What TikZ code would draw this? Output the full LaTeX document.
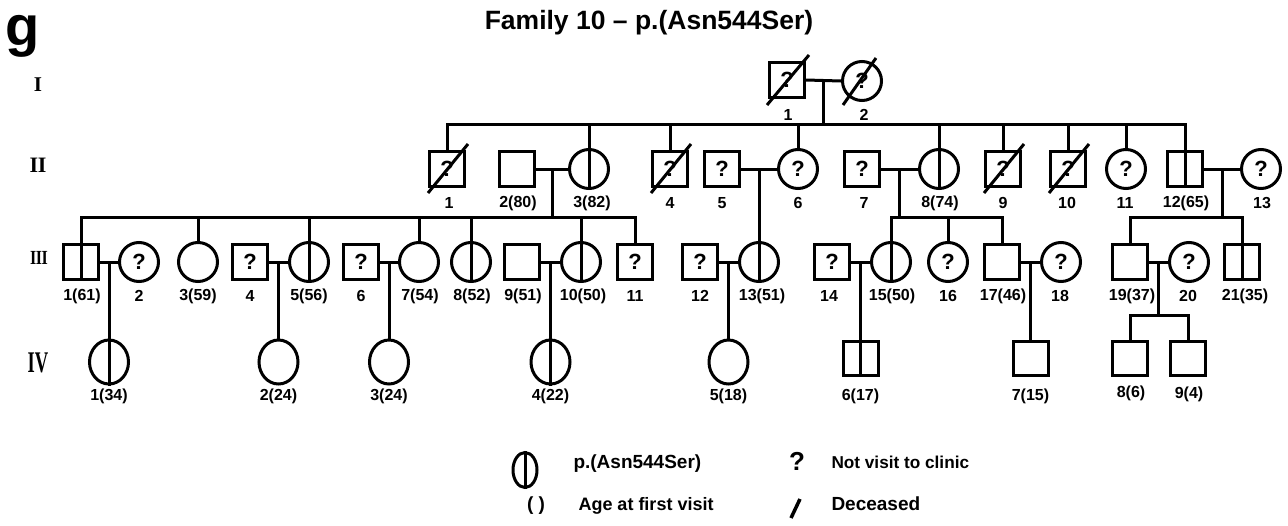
\documentclass[tikz,border=0pt]{standalone}
\usepackage{fontspec}
\setmainfont{Liberation Sans}
\newfontfamily\romfont{Liberation Serif}
\usetikzlibrary{shapes.geometric,calc}
\newcommand\pedq{\bfseries\fontsize{22}{22}\selectfont}
\newcommand\pedlab{\bfseries\fontsize{16}{16}\selectfont}
\newcommand\pedleg{\bfseries\fontsize{17.5}{17.5}\selectfont}
\begin{document}
\begin{tikzpicture}[x=1pt,y=-1pt,line width=3pt,
  male/.style={draw,rectangle,minimum width=35pt,minimum height=35pt,inner sep=0pt,font=\pedq},
  fem/.style={draw,circle,minimum size=39pt,inner sep=0pt,font=\pedq},
  femiv/.style={draw,ellipse,minimum width=39pt,minimum height=44pt,inner sep=0pt},
  maleiv/.style={draw,rectangle,minimum width=35pt,minimum height=34pt,inner sep=0pt},
  lab/.style={font=\pedlab,inner sep=0pt},
  leg/.style={font=\pedleg,inner sep=0pt,anchor=west},
  gen/.style={font=\romfont\bfseries,inner sep=0pt}]
\path[use as bounding box] (0,0) rectangle (1288,525);

% headings
\node[font=\bfseries\fontsize{56}{56}\selectfont,inner sep=0pt] (panel) at (23,36) {g};
\node[font=\bfseries\fontsize{26.5}{26.5}\selectfont,inner sep=0pt] (title) at (649,23) {Family 10 -- p.(Asn544Ser)};
\node[gen,font=\romfont\bfseries\fontsize{21}{21}\selectfont] (gI) at (38,85) {I};
\node[gen,font=\romfont\bfseries\fontsize{22}{22}\selectfont] (gII) at (38,165) {I\kern-0.5pt I};
\node[gen,font=\romfont\bfseries\fontsize{20}{20}\selectfont,xscale=0.8] (gIII) at (39,258) {I\kern-0.5pt I\kern-0.5pt I};
\node[gen,font=\romfont\bfseries\fontsize{30}{30}\selectfont,xscale=0.62] (gIV) at (38,363) {IV};

% generation I
\node[male] (I1) at (787,80) {?};
\node[fem] (I2) at (862,81) {?};
\node[lab] (tI1) at (788,115) {1};
\node[lab] (tI2) at (864,115) {2};
\draw ([shift={(-1,6)}]I1.south west) -- ([shift={(3,-6)}]I1.north east);
\draw ([shift={(-19,24)}]I2.center) -- ([shift={(14,-23)}]I2.center);
\draw (I1.east) -- (I2.west);
\coordinate (mI) at ($(I1.east)!0.5!(I2.west)$);
\coordinate (sII) at (0,124);
\coordinate (sIII) at (0,217);
\coordinate (sIV) at (0,315);

% generation II
\node[male] (II1) at (447,169) {?};
\node[male] (II2) at (517,169) {};
\node[fem] (II3) at (589,169) {};
\node[male] (II4) at (670,169) {?};
\node[male] (II5) at (722,169) {?};
\node[fem] (II6) at (798,169) {?};
\node[male] (II7) at (862,169) {?};
\node[fem] (II8) at (939,169) {};
\node[male] (II9) at (1003,169) {?};
\node[male] (II10) at (1068,169) {?};
\node[fem] (II11) at (1126,169) {?};
\node[male] (II12) at (1185,169) {};
\node[fem] (II13) at (1261,169) {?};
\foreach \n in {II1,II4,II9,II10}{
  \draw ([shift={(0,5)}]\n.south west) -- ([shift={(2,-6)}]\n.north east);}
\foreach \n in {II3,II8,II12}{\draw (\n.north) -- (\n.south);}
\node[lab] (tII1) at (449,203) {1};
\node[lab] (tII2) at (518,203) {2(80)};
\node[lab] (tII3) at (592,203) {3(82)};
\node[lab] (tII4) at (670,203) {4};
\node[lab] (tII5) at (722,203) {5};
\node[lab] (tII6) at (798,203) {6};
\node[lab] (tII7) at (864,203) {7};
\node[lab] (tII8) at (940,203) {8(74)};
\node[lab] (tII9) at (1003,203) {9};
\node[lab] (tII10) at (1067,203) {10};
\node[lab] (tII11) at (1125,203) {11};
\node[lab] (tII12) at (1186,203) {12(65)};
\node[lab] (tII13) at (1262,203) {13};

\draw (mI) -- (mI |- sII);
\draw (II1.north) -- (II1.north |- sII) -- (II12.north |- sII) -- (II12.north);
\foreach \n in {II3,II4,II6,II8,II9,II10,II11}{\draw (\n.north) -- (\n.north |- sII);}

\draw (II2.east) -- (II3.west);
\draw (II5.east) -- (II6.west);
\draw (II7.east) -- (II8.west);
\draw (II12.east) -- (II13.west);
\coordinate (m23) at ($(II2.east)!0.5!(II3.west)$);
\coordinate (m56) at ($(II5.east)!0.5!(II6.west)$);
\coordinate (m78) at ($(II7.east)!0.5!(II8.west)$);
\coordinate (m1213) at ($(II12.east)!0.5!(II13.west)$);

% generation III
\node[male] (III1) at (81,262) {};
\node[fem] (III2) at (139,262) {?};
\node[fem] (III3) at (198,262) {};
\node[male] (III4) at (250,262) {?};
\node[fem] (III5) at (309,262) {};
\node[male] (III6) at (361,262) {?};
\node[fem] (III7) at (419,262) {};
\node[fem] (III8) at (471,262) {};
\node[male] (III9) at (522,262) {};
\node[fem] (III10) at (581,262) {};
\node[male] (III11) at (635,262) {?};
\node[male] (III12) at (700,262) {?};
\node[fem] (III13) at (m56 |- 0,262) {};
\node[male] (III14) at (832,262) {?};
\node[fem] (III15) at (891,262) {};
\node[fem] (III16) at (948,262) {?};
\node[male] (III17) at (1002,262) {};
\node[fem] (III18) at (1061,262) {?};
\node[male] (III19) at (1130,262) {};
\node[fem] (III20) at (1189,262) {?};
\node[male] (III21) at (1242,262) {};
\foreach \n in {III1,III5,III8,III10,III13,III15,III21}{\draw (\n.north) -- (\n.south);}
\node[lab] (tIII1) at (82,296) {1(61)};
\node[lab] (tIII2) at (139,296) {2};
\node[lab] (tIII3) at (198,296) {3(59)};
\node[lab] (tIII4) at (250,296) {4};
\node[lab] (tIII5) at (309,296) {5(56)};
\node[lab] (tIII6) at (361,296) {6};
\node[lab] (tIII7) at (420,296) {7(54)};
\node[lab] (tIII8) at (472,296) {8(52)};
\node[lab] (tIII9) at (523,296) {9(51)};
\node[lab] (tIII10) at (583,296) {10(50)};
\node[lab] (tIII11) at (635,296) {11};
\node[lab] (tIII12) at (700,296) {12};
\node[lab] (tIII13) at (762,296) {13(51)};
\node[lab] (tIII14) at (829,296) {14};
\node[lab] (tIII15) at (892,296) {15(50)};
\node[lab] (tIII16) at (948,296) {16};
\node[lab] (tIII17) at (1003,296) {17(46)};
\node[lab] (tIII18) at (1060,296) {18};
\node[lab] (tIII19) at (1132,296) {19(37)};
\node[lab] (tIII20) at (1188,296) {20};
\node[lab] (tIII21) at (1245,296) {21(35)};

\draw (m23) -- (m23 |- sIII);
\draw (III1.north) -- (III1.north |- sIII) -- (III11.north |- sIII) -- (III11.north);
\foreach \n in {III3,III5,III7,III8,III10}{\draw (\n.north) -- (\n.north |- sIII);}
\draw (m56) -- (III13.north);
\draw (m78) -- (m78 |- sIII);
\draw (III15.north) -- (III15.north |- sIII) -- (III17.north |- sIII) -- (III17.north);
\draw (III16.north) -- (III16.north |- sIII);
\draw (m1213) -- (m1213 |- sIII);
\draw (III19.north) -- (III19.north |- sIII) -- (III21.north |- sIII) -- (III21.north);

\draw (III1.east) -- (III2.west);
\draw (III4.east) -- (III5.west);
\draw (III6.east) -- (III7.west);
\draw (III9.east) -- (III10.west);
\draw (III12.east) -- (III13.west);
\draw (III14.east) -- (III15.west);
\draw (III17.east) -- (III18.west);
\draw (III19.east) -- (III20.west);
\coordinate (n12) at ($(III1.east)!0.5!(III2.west)$);
\coordinate (n45) at ($(III4.east)!0.5!(III5.west)$);
\coordinate (n67) at ($(III6.east)!0.5!(III7.west)$);
\coordinate (n910) at ($(III9.east)!0.5!(III10.west)$);
\coordinate (n1213) at ($(III12.east)!0.5!(III13.west)$);
\coordinate (n1415) at ($(III14.east)!0.5!(III15.west)$);
\coordinate (n1718) at ($(III17.east)!0.5!(III18.west)$);
\coordinate (n1920) at ($(III19.east)!0.5!(III20.west)$);

% generation IV
\node[femiv] (IV1) at (n12 |- 0,362) {};
\node[femiv] (IV2) at (n45 |- 0,362) {};
\node[femiv] (IV3) at (n67 |- 0,362) {};
\node[femiv] (IV4) at (n910 |- 0,362) {};
\node[femiv] (IV5) at (n1213 |- 0,362) {};
\node[maleiv] (IV6) at (n1415 |- 0,358.5) {};
\node[maleiv] (IV7) at (n1718 |- 0,358.5) {};
\node[maleiv] (IV8) at (1130,358.5) {};
\node[maleiv] (IV9) at (1188,358.5) {};
\foreach \n in {IV1,IV4,IV6}{\draw (\n.north) -- (\n.south);}
\foreach \c/\n in {n12/IV1,n45/IV2,n67/IV3,n910/IV4,n1213/IV5,n1415/IV6,n1718/IV7}{
  \draw (\c) -- (\c |- \n.north);}
\draw (n1920) -- (n1920 |- sIV);
\draw (IV8.north) -- (IV8.north |- sIV) -- (IV9.north |- sIV) -- (IV9.north);
\node[lab] (tIV1) at ($(IV1)+(0,34)$) {1(34)};
\node[lab] (tIV2) at ($(IV2)+(0,34)$) {2(24)};
\node[lab] (tIV3) at ($(IV3)+(0,34)$) {3(24)};
\node[lab] (tIV4) at ($(IV4)+(0,34)$) {4(22)};
\node[lab] (tIV5) at ($(IV5)+(0,34)$) {5(18)};
\node[lab] (tIV6) at ($(IV6)+(0,37.5)$) {6(17)};
\node[lab] (tIV7) at ($(IV7)+(0,37.5)$) {7(15)};
\node[lab] (tIV8) at ($(IV8)+(1,35)$) {8(6)};
\node[lab] (tIV9) at ($(IV9)+(1,36)$) {9(4)};

% legend
\node[draw,ellipse,minimum width=24pt,minimum height=35pt,inner sep=0pt] (Lc) at (525,470) {};
\draw (Lc.north) -- (Lc.south);
\node[leg,font=\bfseries\fontsize{19}{19}\selectfont] (Lt1) at (572,464) {p.(Asn544Ser)};
\node[font=\bfseries\fontsize{26}{26}\selectfont,inner sep=0pt] (Lq) at (797,461) {?};
\node[leg,font=\bfseries\fontsize{17.2}{17.2}\selectfont] (Lt2) at (830,462) {Not visit to clinic};
\node[font=\bfseries\fontsize{19}{19}\selectfont,inner sep=0pt] (Lp) at (536,506) {(\hspace{5pt})};
\node[leg,font=\bfseries\fontsize{18}{18}\selectfont] (Lt3) at (577,506) {Age at first visit};
\coordinate (Ls1) at (791,518);
\coordinate (Ls2) at (800,499);
\draw[line width=3.5pt] (Ls1) -- (Ls2);
\node[leg,font=\bfseries\fontsize{19}{19}\selectfont] (Lt4) at (830,504) {Deceased};
\end{tikzpicture}
\end{document}
